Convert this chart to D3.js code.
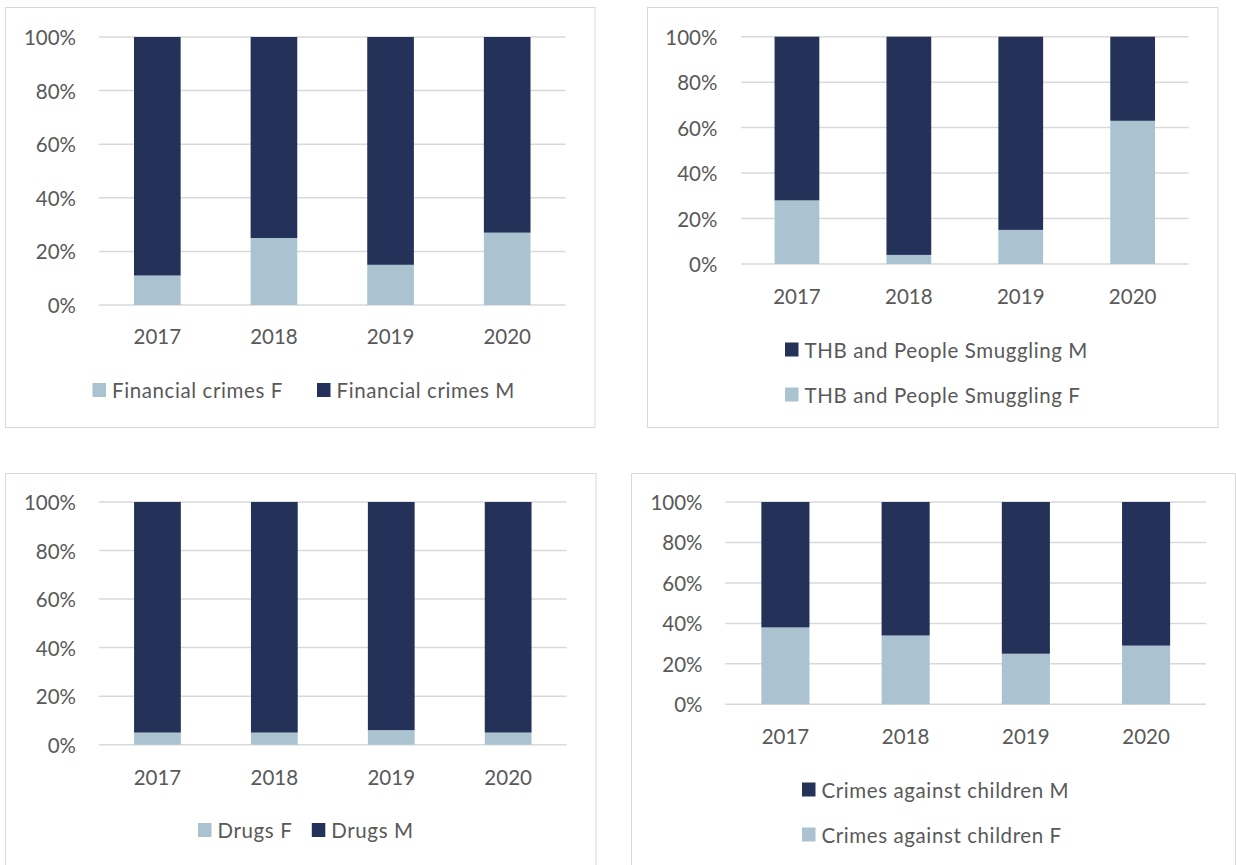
<!DOCTYPE html>
<html>
<head>
<meta charset="utf-8">
<script src="https://cdn.jsdelivr.net/npm/d3@7"></script>
<style>
  html, body { margin: 0; padding: 0; background: #fff; }
  svg { display: block; }
  text { font-family: Lato, "Open Sans", sans-serif; fill: #595959; }
</style>
</head>
<body>
<svg id="chart" width="1236" height="865"></svg>
<script>
// Share of offenders by sex, per crime type and year (percent)
const years = ["2017", "2018", "2019", "2020"];
const yTicks = [0, 20, 40, 60, 80, 100];

const financialF = [11, 25, 15, 27];
const financialM = [89, 75, 85, 73];

const thbF = [28, 4, 15, 63];
const thbM = [72, 96, 85, 37];

const drugsF = [5, 5, 6, 5];
const drugsM = [95, 95, 94, 95];

const childrenF = [38, 34, 25, 29];
const childrenM = [62, 66, 75, 71];

const colorF = "#abc3d0";
const colorM = "#243259";

const svg = d3.select("#chart");

// Panel geometry: frame, plot area, label positions and legend layout
const panels = [
  {
    frame: [5.5, 7.5, 595, 427.5],
    plot: { x0: 99, x1: 565.5, yTop: 37, yBase: 305 },
    yLabelX: 76, xLabelY: 336,
    F: financialF, M: financialM,
    legend: [
      { name: "Financial crimes F", color: colorF, x: 92.5, y: 390 },
      { name: "Financial crimes M", color: colorM, x: 317, y: 390 }
    ]
  },
  {
    frame: [647.5, 7.5, 1218, 427.5],
    plot: { x0: 741, x1: 1188.6, yTop: 36.7, yBase: 264 },
    yLabelX: 717.4, xLabelY: 295.5,
    F: thbF, M: thbM,
    legend: [
      { name: "THB and People Smuggling M", color: colorM, x: 785, y: 349.5 },
      { name: "THB and People Smuggling F", color: colorF, x: 785, y: 394.5 }
    ]
  },
  {
    frame: [5.5, 473.5, 596, 900],
    plot: { x0: 99, x1: 566.6, yTop: 502, yBase: 744.7 },
    yLabelX: 76, xLabelY: 777,
    F: drugsF, M: drugsM,
    legend: [
      { name: "Drugs F", color: colorF, x: 198, y: 830 },
      { name: "Drugs M", color: colorM, x: 311.8, y: 830 }
    ]
  },
  {
    frame: [631.5, 473.5, 1235.5, 900],
    plot: { x0: 725.3, x1: 1206.2, yTop: 502, yBase: 704.3 },
    yLabelX: 702.5, xLabelY: 736,
    F: childrenF, M: childrenM,
    legend: [
      { name: "Crimes against children M", color: colorM, x: 802, y: 789.5 },
      { name: "Crimes against children F", color: colorF, x: 802, y: 834.5 }
    ]
  }
];

panels.forEach(p => {
  const g = svg.append("g");
  const [fx0, fy0, fx1, fy1] = p.frame;

  g.append("rect")
    .attr("x", fx0).attr("y", fy0)
    .attr("width", fx1 - fx0).attr("height", fy1 - fy0)
    .attr("fill", "#fff").attr("stroke", "#d9d9d9").attr("stroke-width", 1);

  const x = d3.scaleBand()
    .domain(years)
    .range([p.plot.x0, p.plot.x1])
    .paddingInner(0.6)
    .paddingOuter(0.3);

  const y = d3.scaleLinear()
    .domain([0, 100])
    .range([p.plot.yBase, p.plot.yTop]);

  // Horizontal gridlines
  g.append("g")
    .selectAll("line")
    .data(yTicks)
    .join("line")
    .attr("x1", p.plot.x0).attr("x2", p.plot.x1)
    .attr("y1", d => y(d)).attr("y2", d => y(d))
    .attr("stroke", "#d9d9d9").attr("stroke-width", 1.5);

  // Y axis labels
  g.append("g")
    .selectAll("text")
    .data(yTicks)
    .join("text")
    .attr("x", p.yLabelX)
    .attr("y", d => y(d))
    .attr("text-anchor", "end")
    .attr("dominant-baseline", "central")
    .attr("font-size", 20.5)
    .text(d => d + "%");

  // Stacked bars: F at the bottom, M on top
  const rows = years.map((yr, i) => ({ year: yr, F: p.F[i], M: p.M[i] }));
  const stack = d3.stack().keys(["F", "M"])(rows);
  const colors = { F: colorF, M: colorM };

  g.append("g")
    .selectAll("g")
    .data(stack)
    .join("g")
    .attr("fill", s => colors[s.key])
    .selectAll("rect")
    .data(s => s)
    .join("rect")
    .attr("x", d => x(d.data.year))
    .attr("width", x.bandwidth())
    .attr("y", d => y(d[1]))
    .attr("height", d => y(d[0]) - y(d[1]));

  // X axis labels
  g.append("g")
    .selectAll("text")
    .data(years)
    .join("text")
    .attr("x", d => x(d) + x.bandwidth() / 2)
    .attr("y", p.xLabelY)
    .attr("text-anchor", "middle")
    .attr("dominant-baseline", "central")
    .attr("font-size", 20.5)
    .text(d => d);

  // Legend
  const lg = g.append("g")
    .selectAll("g")
    .data(p.legend)
    .join("g")
    .attr("transform", d => `translate(${d.x},${d.y})`);
  lg.append("rect")
    .attr("x", 0).attr("y", -7)
    .attr("width", 13.5).attr("height", 14)
    .attr("fill", d => d.color);
  lg.append("text")
    .attr("x", 19.5).attr("y", 0)
    .attr("dominant-baseline", "central")
    .attr("font-size", 20.5)
    .attr("letter-spacing", 0.6)
    .text(d => d.name);
});
</script>
</body>
</html>
